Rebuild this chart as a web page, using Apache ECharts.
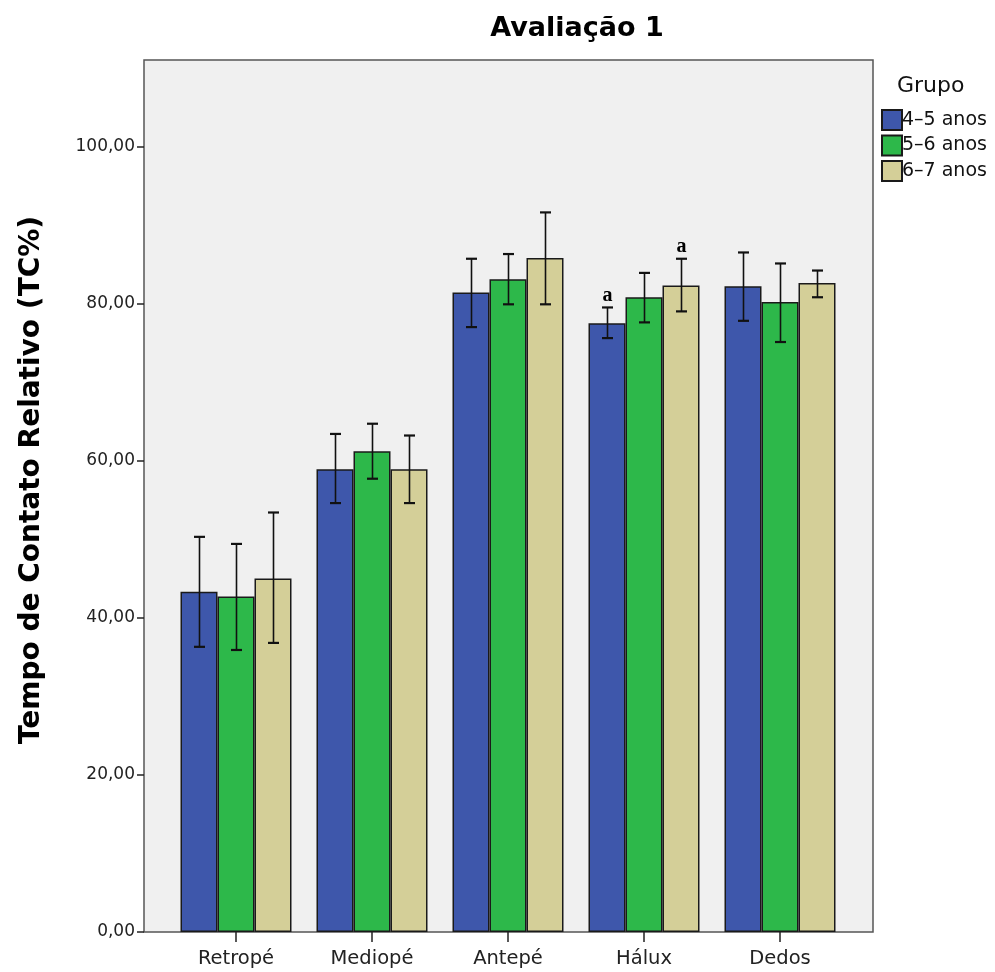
<!DOCTYPE html>
<html>
<head>
<meta charset="utf-8">
<style>
  html, body { margin: 0; padding: 0; background: #ffffff; }
  #chart { width: 995px; height: 972px; }
</style>
<script src="https://cdn.jsdelivr.net/npm/echarts@6/dist/echarts.min.js"></script>
</head>
<body>
<div id="chart"></div>
<script>
// Regions of the foot
const categories = ['Retropé', 'Mediopé', 'Antepé', 'Hálux', 'Dedos'];
// Age groups
const groups = ['4–5 anos', '5–6 anos', '6–7 anos'];

// Mean relative contact time (TC%) per group
const mean45 = [43.3, 58.9, 81.4, 77.5, 82.2];
const mean56 = [42.7, 61.2, 83.1, 80.8, 80.2];
const mean67 = [45.0, 58.9, 85.8, 82.3, 82.6];

// Error bar bounds (lower / upper)
const low45  = [36.3, 54.6, 77.0, 75.6, 77.8];
const high45 = [50.3, 63.4, 85.7, 79.5, 86.5];
const low56  = [35.9, 57.7, 79.9, 77.6, 75.1];
const high56 = [49.4, 64.7, 86.3, 83.9, 85.1];
const low67  = [36.8, 54.6, 79.9, 79.0, 80.8];
const high67 = [53.4, 63.2, 91.6, 85.7, 84.2];

// Significance marks drawn above the error bars
const sig45 = ['', '', '', 'a', ''];
const sig56 = ['', '', '', '', ''];
const sig67 = ['', '', '', 'a', ''];

// Y axis ticks
const yTicks = [0, 20, 40, 60, 80, 100];
const yMax = 111;

const colors = ['#3e57ab', '#2db84a', '#d4cf98'];
const means = [mean45, mean56, mean67];
const lows = [low45, low56, low67];
const highs = [high45, high56, high67];
const sigs = [sig45, sig56, sig67];

const BAR_W = 37;
const CAP_W = 11;
const FONT = '"DejaVu Sans", sans-serif';

function fmt(v) { return v.toFixed(2).replace('.', ','); }

const chart = echarts.init(document.getElementById('chart'));

const series = [];
groups.forEach(function (g, i) {
  series.push({
    name: g,
    type: 'bar',
    xAxisIndex: 1,
    yAxisIndex: 1,
    barWidth: BAR_W,
    barGap: '0%',
    itemStyle: { color: colors[i], borderColor: '#1a1a1a', borderWidth: 1.5 },
    data: means[i],
    z: 2
  });
});
groups.forEach(function (g, i) {
  const offset = (i - 1) * BAR_W;
  series.push({
    type: 'custom',
    xAxisIndex: 1,
    yAxisIndex: 1,
    z: 5,
    silent: true,
    data: categories.map(function (c, k) { return [k, lows[i][k], highs[i][k]]; }),
    renderItem: function (params, api) {
      const k = api.value(0);
      const top = api.coord([k, api.value(2)]);
      const bot = api.coord([k, api.value(1)]);
      const x = Math.round(top[0] + offset) + 0.5;
      const style = { stroke: '#111', lineWidth: 1.6 };
      const capStyle = { stroke: '#111', lineWidth: 2.2 };
      const children = [
        { type: 'line', shape: { x1: x, y1: top[1], x2: x, y2: bot[1] }, style: style },
        { type: 'line', shape: { x1: x - CAP_W / 2, y1: top[1], x2: x + CAP_W / 2, y2: top[1] }, style: capStyle },
        { type: 'line', shape: { x1: x - CAP_W / 2, y1: bot[1], x2: x + CAP_W / 2, y2: bot[1] }, style: capStyle }
      ];
      const s = sigs[i][k];
      if (s) {
        children.push({
          type: 'text',
          style: {
            text: s, x: x, y: top[1] - 2,
            align: 'center', verticalAlign: 'bottom',
            font: 'bold 20px "Liberation Serif", serif', fill: '#000'
          }
        });
      }
      return { type: 'group', children: children };
    }
  });
});

chart.setOption({
  animation: false,
  backgroundColor: '#ffffff',
  title: {
    text: 'Avaliação 1',
    left: 572, top: 10, textAlign: 'center',
    textStyle: { fontFamily: 'DejaVu Sans', fontWeight: 'bold', fontSize: 27, color: '#000' }
  },
  legend: {
    data: groups,
    orient: 'vertical',
    left: 876, top: 104,
    itemWidth: 20, itemHeight: 20, itemGap: 3.5,
    icon: 'rect',
    textStyle: { fontFamily: 'DejaVu Sans', fontSize: 19, color: '#111', padding: [0, 0, 0, -5] }
  },
  graphic: [
    { type: 'text', left: 897, top: 75, style: { text: 'Grupo', font: '22px ' + FONT, fill: '#111' } },
    { type: 'text', x: 32, y: 480, rotation: Math.PI / 2,
      style: { text: 'Tempo de Contato Relativo (TC%)', font: 'bold 28px ' + FONT, fill: '#000', align: 'center', verticalAlign: 'middle' } }
  ],
  grid: [
    { left: 144, top: 60, width: 729, height: 872, show: true, backgroundColor: '#f0f0f0', borderColor: '#555', borderWidth: 1.5, z: 0 },
    { left: 168, top: 60, width: 680, height: 872 }
  ],
  xAxis: [
    { type: 'value', gridIndex: 0, show: false, min: 0, max: 1 },
    {
      type: 'category', gridIndex: 1, data: categories,
      axisLine: { show: false },
      axisTick: { show: true, alignWithLabel: true, length: 10, lineStyle: { color: '#222', width: 1.5 } },
      axisLabel: { fontFamily: 'DejaVu Sans', fontSize: 19.5, color: '#222', margin: 17 }
    }
  ],
  yAxis: [
    {
      type: 'value', gridIndex: 0, min: 0, max: yMax,
      axisLine: { show: false },
      splitLine: { show: false },
      axisTick: { show: true, length: 7, customValues: yTicks, lineStyle: { color: '#222', width: 1.5 } },
      axisLabel: { customValues: yTicks, formatter: fmt, fontFamily: 'DejaVu Sans', fontSize: 17, color: '#222', margin: 9 }
    },
    { type: 'value', gridIndex: 1, min: 0, max: yMax, show: false, splitLine: { show: false } }
  ],
  series: series
});
</script>
</body>
</html>
